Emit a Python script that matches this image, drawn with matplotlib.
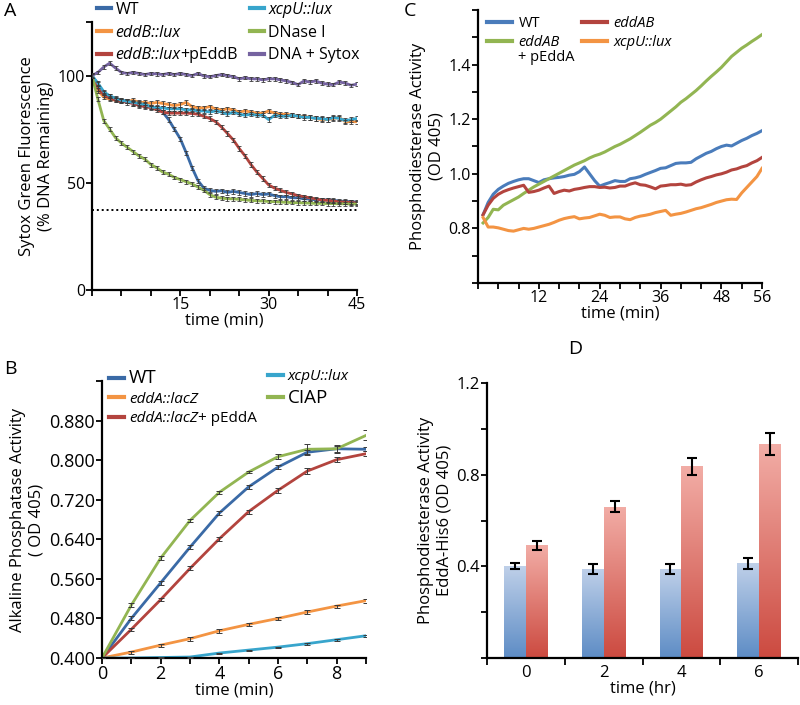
import numpy as np
import matplotlib
matplotlib.use('Agg')
import matplotlib.pyplot as plt
from matplotlib.colors import LinearSegmentedColormap

plt.rcParams['font.family'] = ['Open Sans', 'DejaVu Sans']
plt.rcParams['font.size'] = 11

# ---- panel A: Sytox green fluorescence (% DNA remaining) ----
a_time = list(range(46))
a_wt = [100, 96, 92, 90.5, 89, 88.5, 88, 87, 86.5, 86, 85.5, 85, 83, 79.5, 75, 70.5,
        64, 57, 51, 47.5, 46.5, 46, 46.3, 45.5, 46, 45.5, 45, 44.5, 45, 44.5, 44.8,
        44, 43.5, 43.5, 43, 43, 42.5, 42.5, 42, 42, 42, 41.8, 41.5, 41.3, 41.2, 41]
a_eddb = [100, 93, 90, 89, 88.5, 88, 88, 88.5, 87.5, 87.5, 87, 87.5, 87, 86.5, 86, 86.5,
          87.5, 85.5, 85, 85, 85.5, 84.5, 84, 84.5, 84, 83, 83.5, 83, 82.5, 82.5, 83.5,
          82.5, 82, 82, 81.5, 81, 81, 80.5, 80, 79.5, 79.5, 80, 80.5, 78.5, 78.5, 78.5]
a_eddb_p = [100, 94, 91, 89.5, 88.5, 88, 87.5, 87, 86, 85.5, 85, 84, 83, 82.5, 82.5, 82.5,
            82.5, 82.3, 82, 81, 80, 78.5, 76, 73, 70, 66, 62.5, 58.5, 55, 52, 49,
            47.5, 46.5, 45.5, 44.8, 44, 43.5, 43, 42.5, 42, 41.8, 41.5, 41.2, 41, 40.8, 40.6]
a_xcpu = [100, 96.5, 92.5, 90.5, 89.5, 88.5, 88, 87.5, 87, 86.5, 85.5, 85, 85, 84.5, 84.5, 84.5,
          84, 84, 83.5, 83.5, 83, 83.5, 83, 82, 83, 82, 81.5, 82, 81.5, 81.5, 79.5,
          81.5, 81, 81, 81.5, 81, 80.5, 80.5, 80, 80, 79.5, 80.5, 80, 79, 79.5, 80]
a_dnase = [100, 89, 79, 75, 71, 68.5, 66.5, 64.5, 62.5, 61, 58.5, 57, 55, 54, 52.5, 51.5,
           50.5, 49.5, 48, 46.5, 44.5, 43.3, 42.8, 42.6, 42.5, 42.3, 42, 41.8, 41.6, 41.5, 41.3,
           41.2, 41, 40.9, 40.8, 40.7, 40.6, 40.5, 40.4, 40.4, 40.3, 40.3, 40.2, 40.2, 40.1, 40.1]
a_dna = [100, 101.5, 104, 105.8, 103.5, 101.5, 101, 101.5, 101, 100.5, 101, 100.8, 100.5, 101, 100.5, 101,
         100.5, 100, 101, 99.8, 99.5, 100, 100.5, 100, 99.5, 98.5, 99, 98.5, 98.5, 98, 98.5,
         98.5, 98, 97.5, 96.8, 95.8, 97.5, 97, 97.5, 96.5, 96, 95.8, 97, 96.5, 95.5, 96]
a_err = [1.0, 1.0, 1.0, 1.0, 0.9, 0.8]
a_labels = ['WT', 'eddB::lux', 'eddB::lux', 'xcpU::lux', 'DNase I', 'DNA + Sytox']
a_baseline = 37.5

# ---- panel B: alkaline phosphatase activity ----
b_time = [0, 1, 2, 3, 4, 5, 6, 7, 8, 9]
b_wt = [0.400, 0.480, 0.552, 0.624, 0.693, 0.746, 0.786, 0.816, 0.823, 0.822]
b_edda = [0.400, 0.412, 0.426, 0.439, 0.455, 0.468, 0.480, 0.493, 0.505, 0.516]
b_edda_p = [0.400, 0.458, 0.518, 0.581, 0.641, 0.696, 0.739, 0.778, 0.801, 0.813]
b_xcpu = [0.400, 0.400, 0.401, 0.402, 0.410, 0.416, 0.422, 0.429, 0.437, 0.445]
b_ciap = [0.400, 0.507, 0.602, 0.678, 0.735, 0.776, 0.807, 0.822, 0.823, 0.850]
b_err_wt = [0, 0.004, 0.004, 0.004, 0.004, 0.004, 0.004, 0.005, 0.006, 0.004]
b_err_edda = [0, 0.003, 0.003, 0.004, 0.004, 0.003, 0.003, 0.004, 0.003, 0.004]
b_err_edda_p = [0, 0.003, 0.003, 0.004, 0.004, 0.004, 0.005, 0.007, 0.005, 0.005]
b_err_xcpu = [0, 0.001, 0.001, 0.001, 0.001, 0.001, 0.001, 0.002, 0.002, 0.002]
b_err_ciap = [0, 0.004, 0.004, 0.003, 0.003, 0.003, 0.005, 0.010, 0.008, 0.010]

# ---- panel C: phosphodiesterase activity ----
c_time = list(range(1, 57))
c_wt = [0.85, 0.895, 0.925, 0.943, 0.955, 0.965, 0.972, 0.978, 0.982, 0.982, 0.975, 0.968, 0.978, 0.982,
        0.985, 0.987, 0.99, 0.995, 0.998, 1.008, 1.025, 1.0, 0.975, 0.955, 0.962, 0.968, 0.975, 0.972,
        0.972, 0.982, 0.985, 0.99, 0.998, 1.005, 1.012, 1.02, 1.022, 1.03, 1.038, 1.04, 1.04, 1.042,
        1.055, 1.065, 1.075, 1.082, 1.092, 1.1, 1.105, 1.102, 1.112, 1.122, 1.13, 1.14, 1.148, 1.158]
c_eddab = [0.85, 0.885, 0.91, 0.925, 0.935, 0.942, 0.948, 0.953, 0.958, 0.932, 0.935, 0.94, 0.948, 0.955,
           0.928, 0.935, 0.94, 0.937, 0.943, 0.946, 0.95, 0.953, 0.953, 0.95, 0.951, 0.948, 0.95, 0.955,
           0.955, 0.962, 0.967, 0.96, 0.958, 0.952, 0.945, 0.955, 0.957, 0.96, 0.96, 0.962, 0.958, 0.96,
           0.97, 0.978, 0.985, 0.99, 0.996, 1.0, 1.006, 1.014, 1.018, 1.025, 1.03, 1.04, 1.048, 1.06]
c_eddab_p = [0.82, 0.84, 0.87, 0.868, 0.885, 0.895, 0.905, 0.915, 0.928, 0.94, 0.952, 0.962, 0.972, 0.982,
             0.992, 1.002, 1.012, 1.022, 1.032, 1.04, 1.048, 1.058, 1.066, 1.072, 1.08, 1.09, 1.1, 1.108,
             1.118, 1.128, 1.14, 1.152, 1.165, 1.178, 1.188, 1.2, 1.215, 1.23, 1.245, 1.262, 1.275, 1.29,
             1.305, 1.322, 1.34, 1.357, 1.373, 1.39, 1.41, 1.43, 1.445, 1.46, 1.472, 1.485, 1.497, 1.51]
c_xcpu = [0.84, 0.805, 0.805, 0.802, 0.797, 0.792, 0.79, 0.795, 0.8, 0.797, 0.8, 0.805, 0.81, 0.815,
          0.822, 0.83, 0.836, 0.84, 0.843, 0.835, 0.838, 0.84, 0.846, 0.852, 0.848, 0.84, 0.842, 0.842,
          0.835, 0.832, 0.84, 0.845, 0.848, 0.852, 0.858, 0.862, 0.866, 0.848, 0.852, 0.855, 0.86, 0.866,
          0.872, 0.876, 0.882, 0.888, 0.895, 0.9, 0.905, 0.907, 0.906, 0.93, 0.95, 0.97, 0.99, 1.02]

# ---- panel D: EddA-His6 phosphodiesterase activity ----
d_groups = ['0', '2', '4', '6']
d_blue = [0.401, 0.39, 0.39, 0.414]
d_blue_err = [0.012, 0.022, 0.022, 0.024]
d_red = [0.491, 0.661, 0.836, 0.933]
d_red_err = [0.018, 0.023, 0.036, 0.049]

blue = '#3a6aa6'
orange = '#f39443'
red = '#b3443e'
cyan = '#38a5cc'
green = '#92b552'
purple = '#7563a0'
ebar = '#3a3a3a'

W, H = 800, 705
fig = plt.figure(figsize=(8, 7.05), dpi=100)


def box(l, t, r, b):
    return [l / W, 1 - b / H, (r - l) / W, (b - t) / H]


def style(ax):
    for s in ('top', 'right'):
        ax.spines[s].set_visible(False)
    for s in ('left', 'bottom'):
        ax.spines[s].set_linewidth(1.6)
    ax.tick_params(which='both', direction='out', width=1.3, length=4, labelsize=11.5, pad=1)


def two_col_legend(ax, handles, labels, x1, x2, top, n1, **kw):
    # one legend per column so each column can be placed where the reference has it
    opts = dict(loc='upper left', bbox_transform=fig.transFigure, frameon=False,
                borderpad=0, borderaxespad=0)
    opts.update(kw)
    l1 = ax.legend(handles[:n1], labels[:n1], bbox_to_anchor=(x1 / W, 1 - top / H), **opts)
    ax.add_artist(l1)
    l2 = ax.legend(handles[n1:], labels[n1:], bbox_to_anchor=(x2 / W, 1 - top / H), **opts)
    for ln in l1.get_lines() + l2.get_lines():
        ln.set_linewidth(3)
    return l1.get_texts() + l2.get_texts()


def add_suffix(txt, s, below=False):
    # upright text glued to an italic legend label; drawn after the legend
    xy, va = ((0, 0), 'top') if below else ((1, 0), 'bottom')
    return txt.axes.annotate(s, xy=xy, xycoords=txt, va=va, ha='left', zorder=10,
                             fontsize=txt.get_fontsize(), annotation_clip=False)


ax_a = fig.add_axes(box(92, 22, 357, 290))
ax_b = fig.add_axes(box(102, 381, 366, 658))
ax_c = fig.add_axes(box(478, 10, 762, 283))
ax_d = fig.add_axes(box(487, 383, 798, 658))

# ---------- A ----------
style(ax_a)
a_series = [a_wt, a_eddb, a_eddb_p, a_xcpu, a_dnase, a_dna]
a_cols = [blue, orange, red, cyan, green, purple]
a_handles = []
for vals, col, err in zip(a_series, a_cols, a_err):
    ln, = ax_a.plot(a_time, vals, color=col, lw=2.0, zorder=2)
    ax_a.errorbar(a_time, vals, yerr=err, fmt='none', ecolor=ebar, elinewidth=0.6,
                  capsize=1.2, capthick=0.6, zorder=3)
    a_handles.append(ln)
ax_a.hlines(a_baseline, 0, 45, colors='k', linestyles=(0, (1, 1.5)), lw=1.4)
ax_a.set_xlim(0, 45)
ax_a.set_ylim(0, 125)
ax_a.set_xticks([15, 30, 45])
ax_a.set_xticks([0, 5, 10, 20, 25, 35, 40], minor=True)
ax_a.set_yticks([0, 50, 100, 125])
ax_a.set_yticklabels(['0', '50', '100', ''])
ax_a.set_xlabel('time (min)', fontsize=12, labelpad=0)
ax_a.set_ylabel('Sytox Green Fluorescence\n(% DNA Remaining)', fontsize=12, labelpad=3)
lt = two_col_legend(ax_a, a_handles, a_labels, 97, 250, 2, 3, fontsize=11.5, handlelength=0.85,
                    handletextpad=0.3, labelspacing=0.42)
for i in (1, 2, 3):
    lt[i].set_fontstyle('italic')
add_suffix(lt[2], '+pEddB')

# ---------- B ----------
style(ax_b)
b_series = [b_wt, b_edda, b_edda_p, b_xcpu, b_ciap]
b_errs = [b_err_wt, b_err_edda, b_err_edda_p, b_err_xcpu, b_err_ciap]
b_cols = [blue, orange, red, cyan, green]
b_labels = ['WT', 'eddA::lacZ', 'eddA::lacZ', 'xcpU::lux', 'CIAP']
b_handles = []
for vals, err, col in zip(b_series, b_errs, b_cols):
    ln, = ax_b.plot(b_time, vals, color=col, lw=2.0, zorder=2)
    ax_b.errorbar(b_time, vals, yerr=err, fmt='none', ecolor=ebar, elinewidth=0.7,
                  capsize=2, capthick=0.7, zorder=3)
    b_handles.append(ln)
ax_b.set_xlim(0, 9)
ax_b.set_ylim(0.4, 0.96)
ax_b.set_xticks([0, 2, 4, 6, 8])
ax_b.set_xticks([1, 3, 5, 7, 9], minor=True)
ax_b.set_yticks([0.40, 0.48, 0.56, 0.64, 0.72, 0.80, 0.88, 0.96])
ax_b.set_yticklabels(['0.400', '0.480', '0.560', '0.640', '0.720', '0.800', '0.880', ''])
ax_b.tick_params(axis='y', labelsize=13)
ax_b.tick_params(axis='x', labelsize=13)
ax_b.set_xlabel('time (min)', fontsize=12, labelpad=0)
ax_b.set_ylabel('Alkaline Phosphatase Activity\n( OD 405)', fontsize=12, labelpad=3)
lt = two_col_legend(ax_b, b_handles, b_labels, 109, 268, 369, 3, fontsize=11, handlelength=1.0,
                    handletextpad=0.3, labelspacing=0.3)
for i in (1, 2, 3):
    lt[i].set_fontstyle('italic')
for i in (0, 4):
    lt[i].set_fontsize(13.5)
add_suffix(lt[2], '+ pEddA')

# ---------- C ----------
style(ax_c)
c_series = [c_wt, c_eddab_p, c_eddab, c_xcpu]
c_cols = ['#4a7cbb', green, red, orange]
c_labels = ['WT', 'eddAB', 'eddAB', 'xcpU::lux']
c_handles = []
for vals, col in zip(c_series, c_cols):
    ln, = ax_c.plot(c_time, vals, color=col, lw=2.2)
    c_handles.append(ln)
ax_c.set_xlim(0, 56)
ax_c.set_ylim(0.6, 1.6)
ax_c.set_xticks([12, 24, 36, 48, 56])
ax_c.set_xticks([0, 4, 8, 16, 20, 28, 32, 40, 44, 52], minor=True)
ax_c.set_yticks([0.8, 1.0, 1.2, 1.4])
ax_c.set_yticks([0.6, 0.7, 0.9, 1.1, 1.3, 1.5, 1.6], minor=True)
ax_c.set_xlabel('time (min)', fontsize=12, labelpad=0)
ax_c.set_ylabel('Phosphodiesterase Activity\n(OD 405)', fontsize=12, labelpad=3)
lt = two_col_legend(ax_c, c_handles, c_labels, 487, 582, 16, 2, fontsize=10.5, handlelength=1.7,
                    handletextpad=0.45, labelspacing=0.3)
for i in (1, 2, 3):
    lt[i].set_fontstyle('italic')
add_suffix(lt[1], '+ pEddA', below=True)

# ---------- D ----------
style(ax_d)
x = np.arange(len(d_groups))
bw = 0.28
cmap_b = LinearSegmentedColormap.from_list('b', ['#5d8cc5', '#bfd0e9'])
cmap_r = LinearSegmentedColormap.from_list('r', ['#cc4a40', '#f2ada6'])
grad = np.linspace(0, 1, 256).reshape(-1, 1)
for xs, vals, cmap in ((x - bw / 2, d_blue, cmap_b), (x + bw / 2, d_red, cmap_r)):
    bars = ax_d.bar(xs, vals, width=bw, color='none', edgecolor='none')
    for rect in bars:
        x0, h = rect.get_x(), rect.get_height()
        im = ax_d.imshow(grad, cmap=cmap, origin='lower', aspect='auto',
                         extent=(x0, x0 + bw, 0, h), zorder=1)
        im.set_clip_path(rect)
ax_d.errorbar(x - bw / 2, d_blue, yerr=d_blue_err, fmt='none', ecolor='k', elinewidth=1.5,
              capsize=3.5, capthick=1.5, zorder=3)
ax_d.errorbar(x + bw / 2, d_red, yerr=d_red_err, fmt='none', ecolor='k', elinewidth=1.5,
              capsize=3.5, capthick=1.5, zorder=3)
ax_d.set_xlim(-0.5, 3.5)
ax_d.set_ylim(0, 1.2)
ax_d.set_xticks(x)
ax_d.set_xticklabels(d_groups)
ax_d.set_xticks([-0.5, 0.5, 1.5, 2.5, 3.5], minor=True)
ax_d.tick_params(axis='x', which='major', length=0, pad=5, labelsize=12)
ax_d.tick_params(axis='x', which='minor', length=5)
ax_d.set_yticks([0, 0.2, 0.4, 0.6, 0.8, 1.0, 1.2])
ax_d.set_yticklabels(['', '', '0.4', '', '0.8', '', '1.2'])
ax_d.tick_params(axis='y', labelsize=12)
ax_d.set_xlabel('time (hr)', fontsize=12, labelpad=0)
ax_d.set_ylabel('Phosphodiesterase Activity\nEddA-His6 (OD 405)', fontsize=12, labelpad=3)

# panel letters
for lab, px, py in (('A', 4, 2), ('B', 4, 360), ('C', 404, 2), ('D', 568, 340)):
    fig.text(px / W, 1 - py / H, lab, fontsize=14, va='top', ha='left')

fig.savefig('out.png', dpi=100)
